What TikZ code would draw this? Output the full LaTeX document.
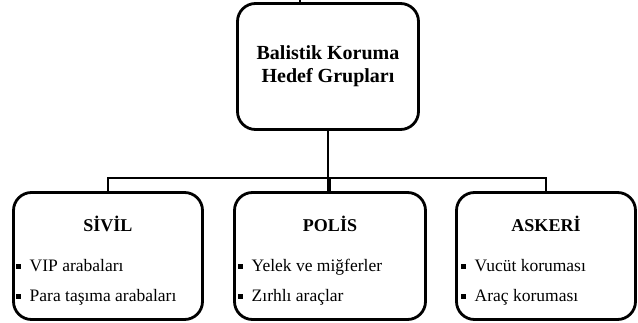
\documentclass[tikz,border=0pt]{standalone}
\usepackage{fontspec}
\setmainfont{Liberation Serif}
\newcommand{\sqb}{\raisebox{2.5pt}{\rule{4.5pt}{4.5pt}}\hspace{9pt}}
\begin{document}
\begin{tikzpicture}[x=1pt,y=1pt,
  box/.style={draw=black,line width=2.8pt,rounded corners=18pt,fill=white,inner sep=0pt},
  conn/.style={draw=black,line width=2.8pt},
  head/.style={font=\fontsize{18}{20}\selectfont\bfseries},
  items/.style={font=\fontsize{17.5}{30}\selectfont,align=left,anchor=west,inner sep=0pt}]
\useasboundingbox (0,0) rectangle (638,-323);
\node[box,minimum width=181pt,minimum height=126pt] (top) at (328,-66.5) {};
\node[font=\fontsize{20}{23}\selectfont\bfseries,align=center] (title) at (top.center) {Balistik Koruma\\Hedef Grupları};
\node[box,minimum width=189pt,minimum height=127pt] (sivil) at (108,-256) {};
\node[box,minimum width=191pt,minimum height=127pt] (polis) at (330,-256) {};
\node[box,minimum width=179pt,minimum height=127pt] (askeri) at (546,-256) {};
\node[head] (h1) at (108,-224) {SİVİL};
\node[head] (h2) at (330,-224) {POLİS};
\node[head] (h3) at (546,-224) {ASKERİ};
\node[items] (l1) at (16,-282) {\sqb VIP arabaları\\\sqb Para taşıma arabaları};
\node[items] (l2) at (238,-282) {\sqb Yelek ve miğferler\\\sqb Zırhlı araçlar};
\node[items] (l3) at (461,-282) {\sqb Vucüt koruması\\\sqb Araç koruması};
\coordinate (tick) at (300,0);
\draw[conn,line width=1.5pt] (tick) -- (tick |- top.north);
\draw[conn] (top.south) -- (top.south |- polis.north);
\draw[conn] (sivil.north) -- ++(0,13) -| (askeri.north);
\draw[conn] (polis.north) -- ++(0,13);
\end{tikzpicture}
\end{document}
